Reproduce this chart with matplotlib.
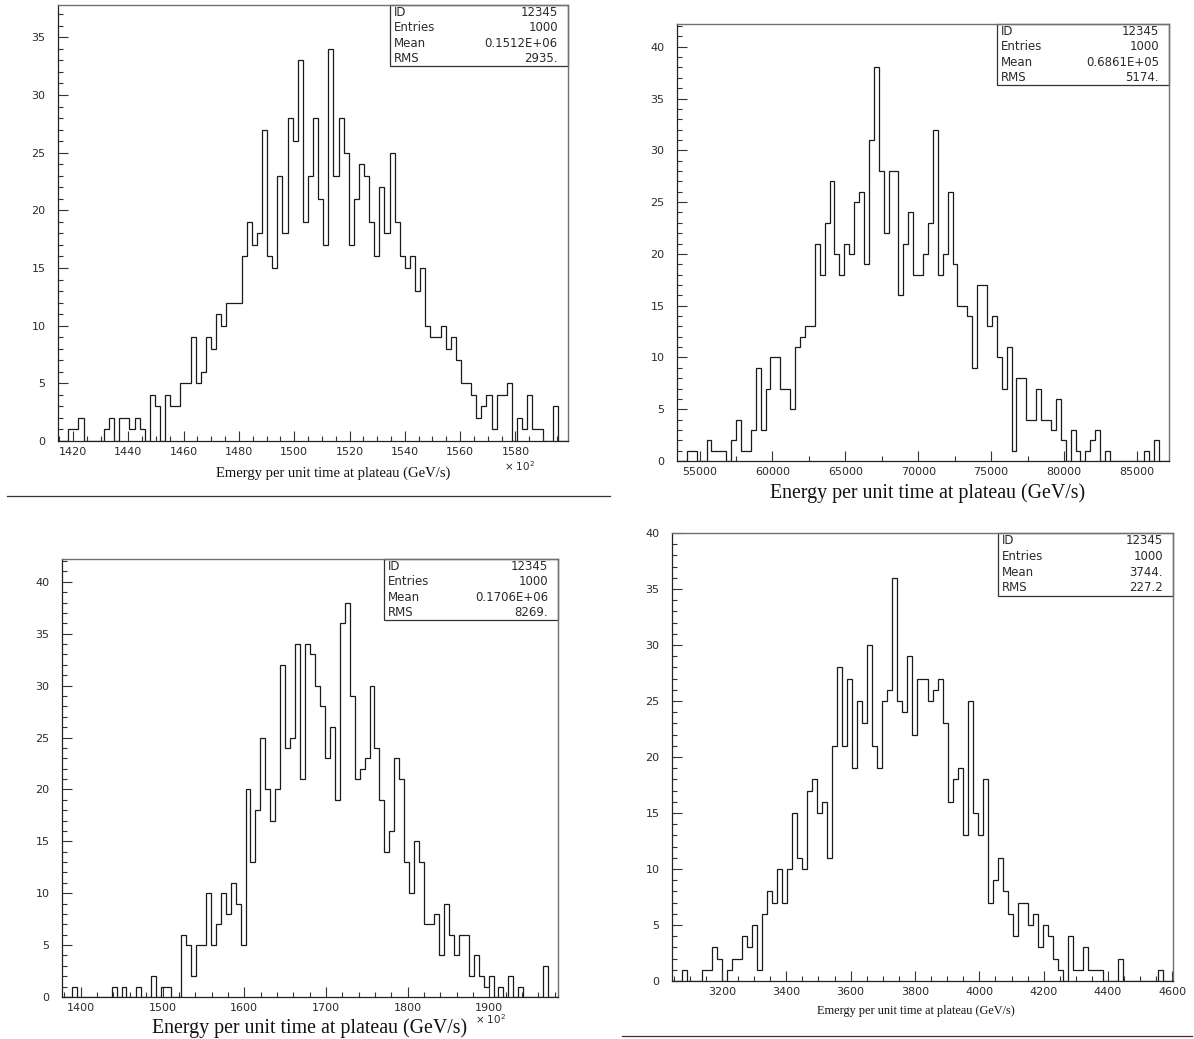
import matplotlib
matplotlib.use('Agg')
import matplotlib.pyplot as plt
import numpy as np
from matplotlib.patches import Rectangle
from matplotlib.ticker import MultipleLocator

W, H = 1194, 1039

stat_names = ['ID', 'Entries', 'Mean', 'RMS']

# top left, x in units of 10^2
p1_range = (1414.6, 1599.0)
p1_counts = [0, 0, 1, 1, 2, 0, 0, 0, 0, 1, 2, 0, 2, 2, 1, 2, 1, 0, 4, 3,
             0, 4, 3, 3, 5, 5, 9, 5, 6, 9, 8, 11, 10, 12, 12, 12, 16, 19, 17, 18,
             27, 16, 15, 23, 18, 28, 26, 33, 19, 23, 28, 21, 17, 34, 23, 28, 25, 17, 21, 24,
             23, 19, 16, 22, 18, 25, 19, 16, 15, 16, 13, 15, 10, 9, 9, 10, 8, 9, 7, 5,
             5, 4, 2, 3, 4, 1, 4, 4, 5, 0, 2, 1, 4, 1, 1, 0, 0, 3, 0, 0]
p1_stats = ['12345', '1000', '0.1512E+06', '2935.']

# top right
p2_range = (53450.0, 87200.0)
p2_counts = [0, 0, 1, 1, 0, 0, 2, 1, 1, 1, 0, 2, 4, 1, 1, 3, 9, 3, 7, 10,
             10, 7, 7, 5, 11, 12, 13, 13, 21, 18, 23, 27, 20, 18, 21, 20, 25, 26, 19, 31,
             38, 28, 22, 28, 28, 16, 21, 24, 18, 18, 20, 23, 32, 18, 20, 26, 19, 15, 15, 14,
             9, 17, 17, 13, 14, 10, 7, 11, 1, 8, 8, 4, 4, 7, 4, 4, 3, 6, 2, 0,
             3, 1, 0, 1, 2, 3, 0, 1, 0, 0, 0, 0, 0, 0, 0, 1, 0, 2, 0, 0]
p2_stats = ['12345', '1000', '0.6861E+05', '5174.']

# bottom left, x in units of 10^2
p3_range = (1377.0, 1984.0)
p3_counts = [0, 0, 1, 0, 0, 0, 0, 0, 0, 0, 1, 0, 1, 0, 0, 1, 0, 0, 2, 0,
             1, 1, 0, 0, 6, 5, 2, 5, 5, 10, 5, 7, 10, 8, 11, 9, 5, 20, 13, 18,
             25, 20, 17, 20, 32, 24, 25, 34, 21, 34, 33, 30, 28, 23, 26, 19, 36, 38, 29, 21,
             22, 23, 30, 24, 19, 14, 16, 23, 21, 13, 10, 15, 13, 7, 7, 8, 4, 9, 6, 4,
             6, 6, 2, 4, 2, 1, 2, 0, 1, 0, 2, 0, 1, 0, 0, 0, 0, 3, 0, 0]
p3_stats = ['12345', '1000', '0.1706E+06', '8269.']

# bottom right
p4_range = (3044.6, 4602.0)
p4_counts = [0, 0, 1, 0, 0, 0, 1, 1, 3, 2, 0, 1, 2, 2, 4, 3, 5, 1, 6, 8,
             7, 10, 7, 10, 15, 11, 10, 17, 18, 15, 16, 11, 21, 28, 21, 27, 19, 25, 23, 30,
             21, 19, 25, 26, 36, 25, 24, 29, 22, 27, 27, 25, 26, 27, 23, 16, 18, 19, 13, 25,
             15, 13, 18, 7, 9, 11, 8, 6, 4, 7, 7, 5, 6, 3, 5, 4, 2, 1, 0, 4,
             1, 1, 3, 1, 1, 1, 0, 0, 0, 2, 0, 0, 0, 0, 0, 0, 0, 1, 0, 0]
p4_stats = ['12345', '1000', '3744.', '227.2']

TEXT_COL = '#2a2a2a'


def px_axes(fig, left, top, right, bottom):
    return fig.add_axes([left / W, 1 - bottom / H,
                         (right - left) / W, (bottom - top) / H])


def px_text(fig, x, y, s, **kw):
    fig.text(x / W, 1 - y / H, s, **kw)


def draw_hist(ax, counts, xrange, ymax, major_x, minor_x):
    edges = np.linspace(xrange[0], xrange[1], len(counts) + 1)
    ax.stairs(counts, edges, color='#1a1a1a', linewidth=0.9)
    ax.set_xlim(*xrange)
    ax.set_ylim(0, ymax)
    ax.xaxis.set_major_locator(MultipleLocator(major_x))
    ax.xaxis.set_minor_locator(MultipleLocator(minor_x))
    ax.yaxis.set_major_locator(MultipleLocator(5))
    ax.yaxis.set_minor_locator(MultipleLocator(1))
    ax.tick_params(which='both', direction='in', top=False, right=False,
                   color='#333333', labelcolor=TEXT_COL, labelsize=8,
                   width=0.8)
    ax.tick_params(which='major', length=7)
    ax.tick_params(which='minor', length=3.5)
    ax.tick_params(axis='y', pad=9)
    ax.tick_params(axis='x', pad=4)
    for s in ['left', 'bottom']:
        ax.spines[s].set_color('#222222')
        ax.spines[s].set_linewidth(0.9)
    for s in ['top', 'right']:
        ax.spines[s].set_color('#707070')
        ax.spines[s].set_linewidth(1.0)


def draw_stats(ax, values):
    x0, y0 = 0.65, 0.86
    ax.add_patch(Rectangle((x0, y0), 1 - x0, 1 - y0, transform=ax.transAxes,
                           fill=False, edgecolor='#333333', linewidth=0.9,
                           clip_on=False))
    h = (1 - y0) / 4
    for i, (name, val) in enumerate(zip(stat_names, values)):
        yc = 1 - h * (i + 0.5)
        ax.text(x0 + 0.008, yc, name, transform=ax.transAxes, ha='left',
                va='center', fontsize=8.5, color=TEXT_COL)
        ax.text(0.98, yc, val, transform=ax.transAxes, ha='right',
                va='center', fontsize=8.5, color=TEXT_COL)


fig = plt.figure(figsize=(W / 100, H / 100), dpi=100)

ax1 = px_axes(fig, 58, 5, 568, 441)
draw_hist(ax1, p1_counts, p1_range, 37.8, 20, 5)
draw_stats(ax1, p1_stats)

ax2 = px_axes(fig, 677, 24, 1169, 461)
draw_hist(ax2, p2_counts, p2_range, 42.2, 5000, 2500)
draw_stats(ax2, p2_stats)

ax3 = px_axes(fig, 62, 559, 558, 997)
draw_hist(ax3, p3_counts, p3_range, 42.2, 100, 20)
draw_stats(ax3, p3_stats)

ax4 = px_axes(fig, 672, 533, 1173, 981)
draw_hist(ax4, p4_counts, p4_range, 40.0, 200, 50)
draw_stats(ax4, p4_stats)

serif = 'Liberation Serif'
px_text(fig, 333, 473, 'Emergy per unit time at plateau (GeV/s)',
        family=serif, fontsize=10.5, ha='center', va='center', color='#111111')
px_text(fig, 520, 466, r'× 10$^2$', fontsize=7.5, ha='center', va='center',
        color=TEXT_COL)
px_text(fig, 928, 493, 'Energy per unit time at plateau (GeV/s)',
        family=serif, fontsize=14.3, ha='center', va='center', color='#111111')
px_text(fig, 310, 1028, 'Energy per unit time at plateau (GeV/s)',
        family=serif, fontsize=14.3, ha='center', va='center', color='#111111')
px_text(fig, 491, 1019, r'× 10$^2$', fontsize=7.5, ha='center', va='center',
        color=TEXT_COL)
px_text(fig, 916, 1011, 'Emergy per unit time at plateau (GeV/s)',
        family=serif, fontsize=8.8, ha='center', va='center', color='#111111')

# separator rules under the left-top and right-bottom plots
fig.add_artist(plt.Line2D([7 / W, 610 / W], [1 - 496 / H, 1 - 496 / H],
                          color='#333333', linewidth=0.9))
fig.add_artist(plt.Line2D([622 / W, 1192 / W], [1 - 1036 / H, 1 - 1036 / H],
                          color='#333333', linewidth=0.9))

fig.savefig('out.png', dpi=100, facecolor='white')
plt.close(fig)
